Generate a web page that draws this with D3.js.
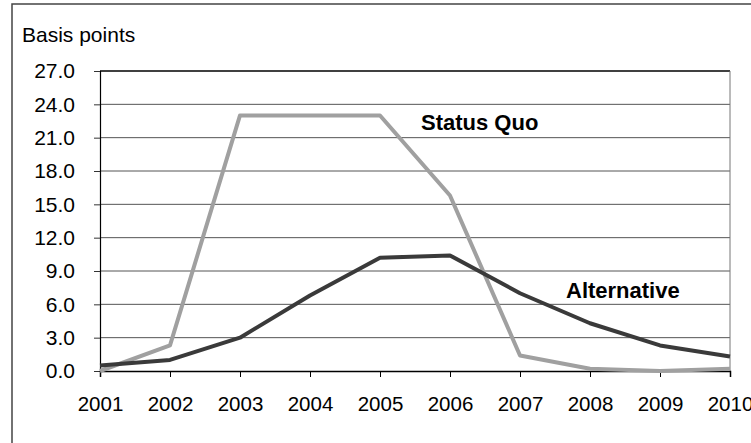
<!DOCTYPE html>
<html><head><meta charset="utf-8">
<script src="https://d3js.org/d3.v7.min.js"></script>
<style>body{margin:0;background:#fff}svg{display:block}text{font-family:Arial,"Liberation Sans",sans-serif}</style>
</head><body><svg id="c" width="751" height="443"></svg>
<script>
const years = ["2001","2002","2003","2004","2005","2006","2007","2008","2009","2010"];
const statusQuo = [0.0, 2.3, 23.0, 23.0, 23.0, 15.8, 1.4, 0.2, 0.0, 0.2];
const alternative = [0.5, 1.0, 3.0, 6.8, 10.2, 10.4, 7.0, 4.3, 2.3, 1.3];
const yTicks = [0, 3, 6, 9, 12, 15, 18, 21, 24, 27];
const seriesNames = ["Status Quo", "Alternative"];

const svg = d3.select("#c");
const L = 100, R = 730, T = 71, B = 371;
const x = d3.scalePoint().domain(years).range([L, R]);
const y = d3.scaleLinear().domain([0, 27]).range([B, T]);

svg.append("rect").attr("x", 12).attr("y", 4).attr("width", 800).attr("height", 500)
  .attr("fill", "none").attr("stroke", "#444").attr("stroke-width", 1.5);

svg.append("text").attr("x", 22).attr("y", 42).attr("font-size", 21).text("Basis points");

// gridlines
svg.append("g").selectAll("line").data(yTicks.filter(d => d > 0)).join("line")
  .attr("x1", L).attr("x2", R).attr("y1", d => y(d)).attr("y2", d => y(d))
  .attr("stroke", d => d === 27 ? "#000" : "#555").attr("stroke-width", d => d === 27 ? 1.5 : 1);
// right edge
svg.append("line").attr("x1", R).attr("x2", R).attr("y1", T).attr("y2", B).attr("stroke", "#777").attr("stroke-width", 1);

const yAxis = d3.axisLeft(y).tickValues(yTicks).tickFormat(d3.format(".1f")).tickSize(6).tickPadding(19);
const gy = svg.append("g").attr("transform", `translate(${L},0)`).call(yAxis);
gy.select(".domain").attr("stroke", "#000").attr("stroke-width", 1.2);
gy.selectAll(".tick line").attr("stroke", "#333");
gy.selectAll("text").attr("font-size", 21).attr("fill", "#000").attr("font-family", "Arial, Liberation Sans, sans-serif");

const xAxis = d3.axisBottom(x).tickSize(6).tickPadding(19);
const gx = svg.append("g").attr("transform", `translate(0,${B})`).call(xAxis);
gx.select(".domain").attr("stroke", "#000").attr("stroke-width", 1.5);
gx.selectAll(".tick line").attr("stroke", "#000");
gx.selectAll("text").attr("font-size", 20.5).attr("fill", "#000").attr("font-family", "Arial, Liberation Sans, sans-serif");

const line = d3.line().x((d, i) => x(years[i])).y(d => y(d));
svg.append("path").datum(statusQuo).attr("d", line).attr("fill", "none")
  .attr("stroke", "#a0a0a0").attr("stroke-width", 4).attr("stroke-linejoin", "round");
svg.append("path").datum(alternative).attr("d", line).attr("fill", "none")
  .attr("stroke", "#3a3a3a").attr("stroke-width", 4).attr("stroke-linejoin", "round");

svg.append("text").attr("x", 421).attr("y", 130).attr("font-size", 22).attr("font-weight", "bold").text(seriesNames[0]);
svg.append("text").attr("x", 566).attr("y", 298).attr("font-size", 22).attr("font-weight", "bold").text(seriesNames[1]);
</script></body></html>
